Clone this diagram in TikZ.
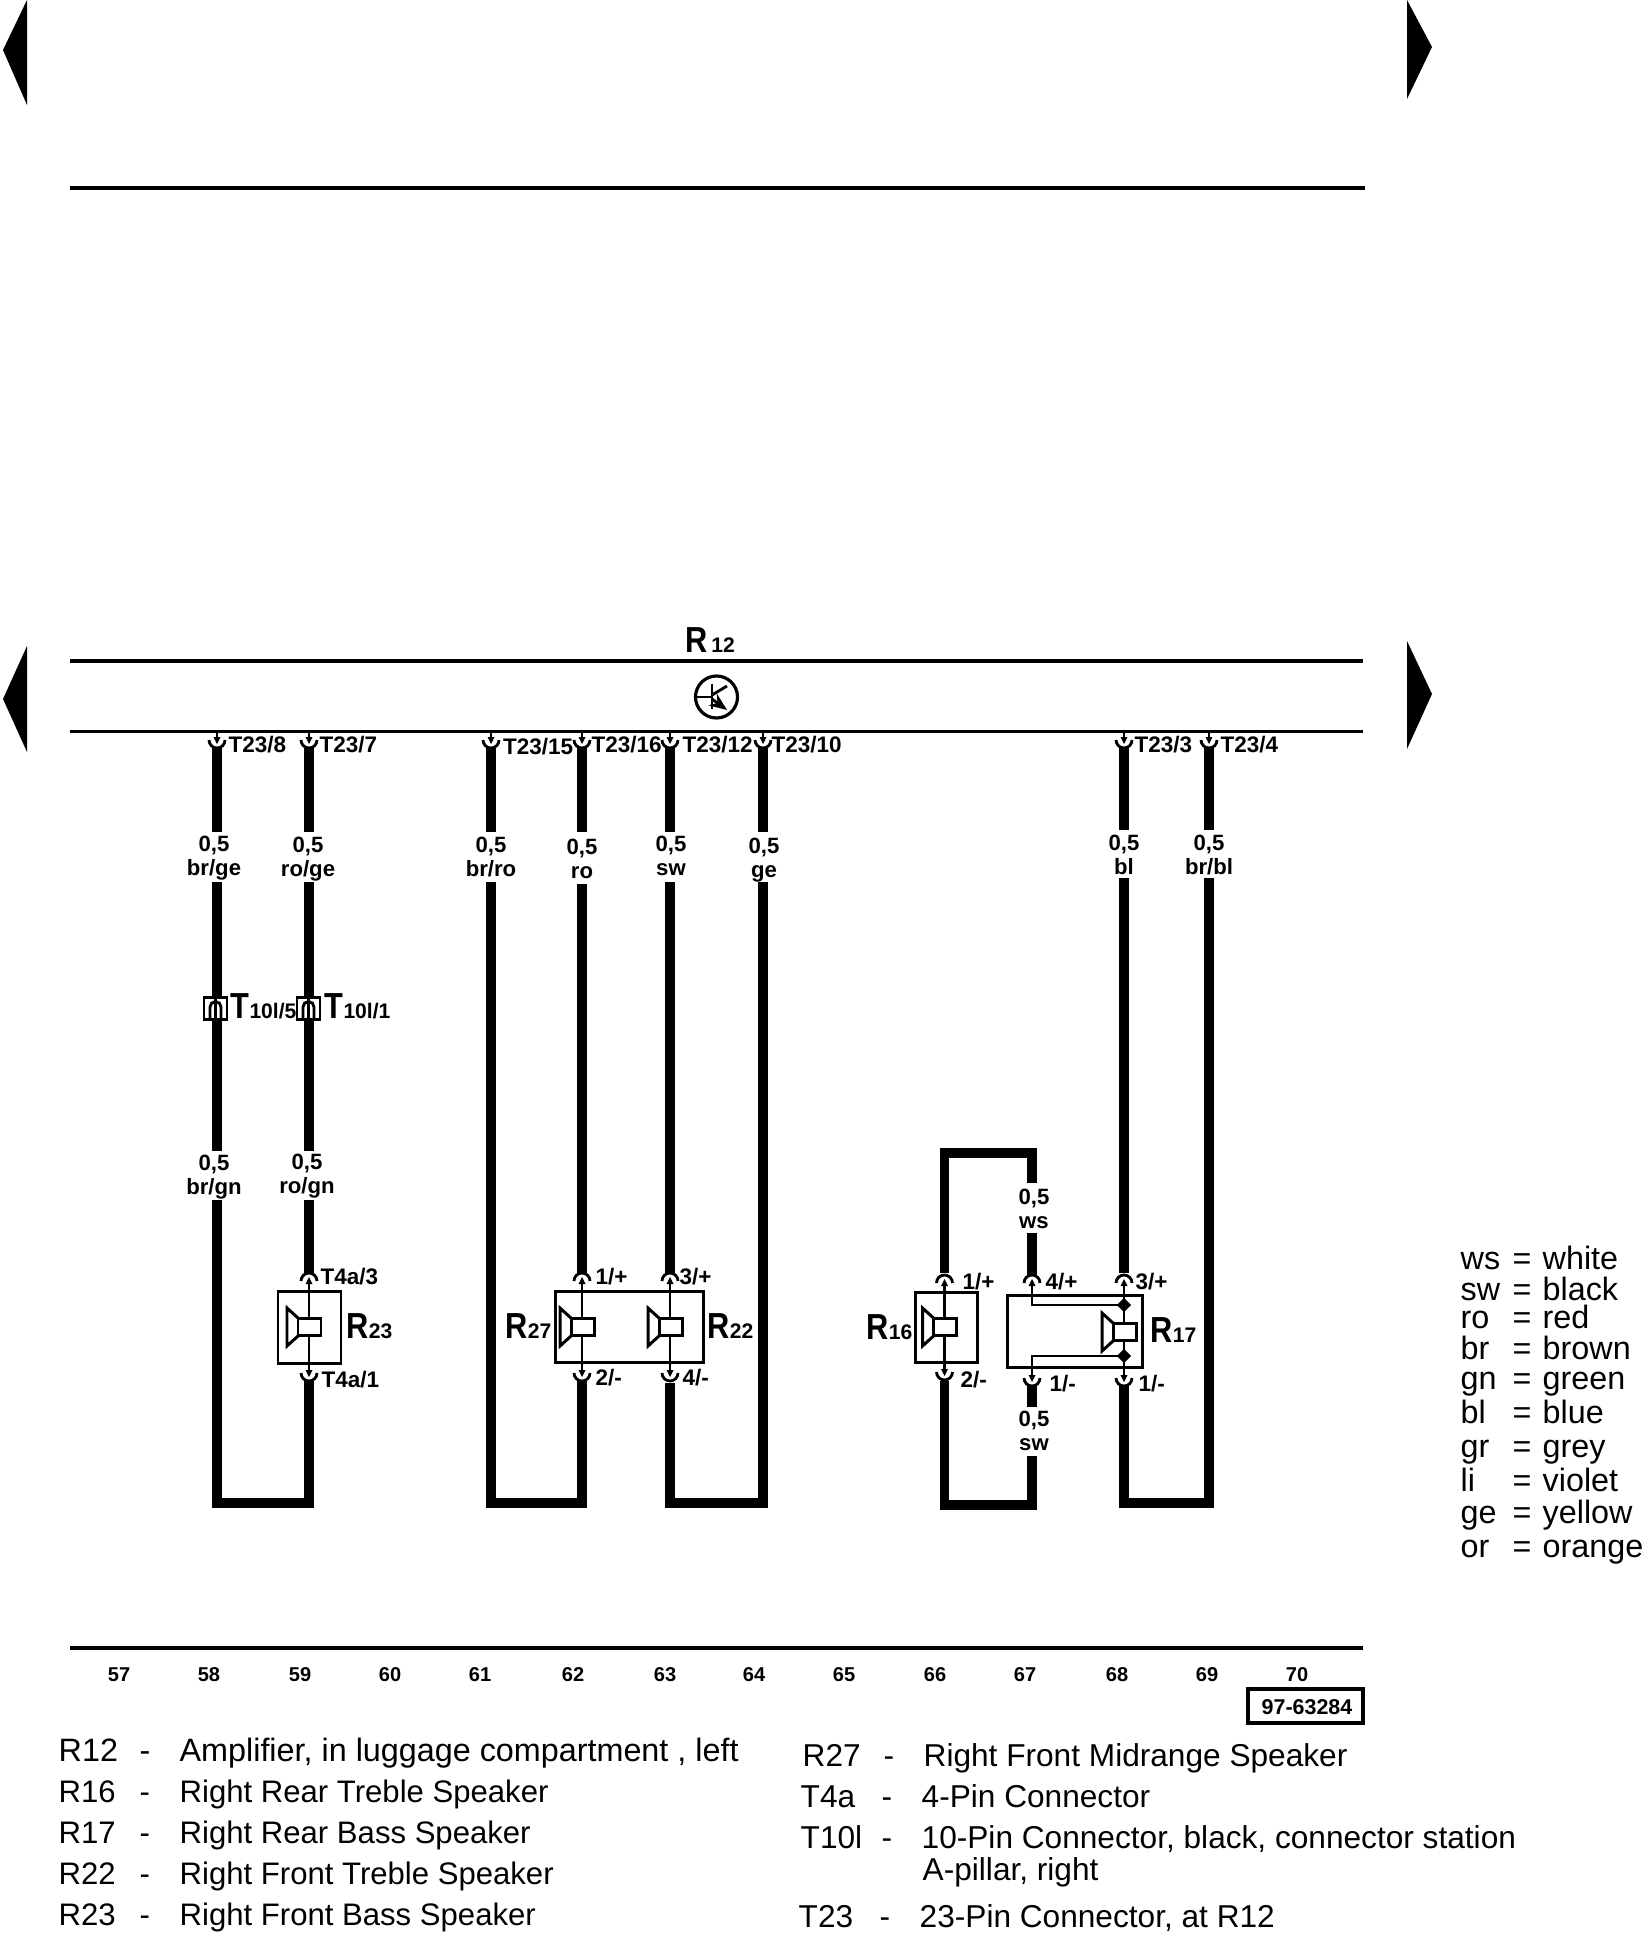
\documentclass[tikz,border=0pt]{standalone}
\usepackage{fontspec, tkz-euclide}
\setmainfont{Liberation Sans}
\usetikzlibrary{shapes.geometric, arrows.meta}

\newcommand{\compname}[2]{{\fontsize{10.3}{11}\selectfont\bfseries\scalebox{.85}[1]{#1}}{\fontsize{6}{7}\selectfont\bfseries #2}}
\newcommand{\legrow}[3]{\makebox[.81cm][l]{#1}\makebox[.40cm][l]{#2}#3}
\newcommand{\colrow}[2]{\makebox[.52cm][l]{#1}\makebox[.30cm][l]{=}#2}
\newcommand{\wiregauge}[1]{0,5\\#1\strut}

\tikzset{
    wire/.style = {line width = 2.8pt, line join = miter, line cap = butt},
    bus/.style = {line width = 1pt, line cap = butt},
    thinline/.style = {line width = .8pt, line cap = butt},
    partbox/.style = {line width = .85pt},
    pinlabel/.style = {anchor = west, inner sep = 0pt, font = \fontsize{6.4}{7}\selectfont\bfseries},
    gaugelabel/.style = {align = center, inner sep = 0pt, font = \fontsize{6.3}{6.8}\selectfont\bfseries},
    partlabel/.style = {anchor = base west, inner sep = 0pt},
    colnum/.style = {inner sep = 0pt, font = \fontsize{5.7}{7}\selectfont\bfseries},
    legendtext/.style = {anchor = base west, inner sep = 0pt, font = \fontsize{9.2}{11}\selectfont},
    legendright/.style = {legendtext, font = \fontsize{9}{11}\selectfont},
    legendleft/.style = {legendtext, font = \fontsize{8.85}{11}\selectfont},
    junct/.style = {diamond, fill, inner sep = 0pt, minimum size = .15cm},
    pindown/.pic = {
        \draw[thinline] (-.08,0) arc[start angle = 180, end angle = 360, radius = .08];
        \fill (-.035,.03) -- (.035,.03) -- (0,-.04) -- cycle;
    },
    speaker/.pic = {
        \draw[partbox, fill = white] (-.11,-.085) rectangle (.12,.085);
        \draw[partbox] (-.11,.09) -- (-.22,.19) -- (-.22,-.19) -- (-.11,-.09);
    },
    tenpin/.pic = {
        \draw[partbox, fill = white] (-.115,-.11) rectangle (.115,.11);
        \draw[thinline] (-.055,-.11) -- (-.055,.01) arc[start angle = 180, end angle = 0, radius = .055] -- (.055,-.11);
        \draw[thinline] (0,.11) -- (0,-.11);
    }
}

\begin{document}
\begin{tikzpicture}
    \useasboundingbox (0,0) rectangle (16.48,-19.40);
    % page arrows and bus lines
    \tkzDefPoints{.03/-.50/la1, .27/0/la2, .27/-1.05/la3, 14.32/-.47/ra1, 14.07/0/ra2, 14.07/-.99/ra3}
    \tkzDefPoints{.03/-6.99/lb1, .27/-6.46/lb2, .27/-7.52/lb3, 14.32/-6.94/rb1, 14.07/-6.41/rb2, 14.07/-7.49/rb3}
    \tkzDefPoints{.70/-1.88/t1, 13.65/-1.88/t2, .70/-6.61/u1, 13.63/-6.61/u2, .70/-7.315/v1, 13.63/-7.315/v2, .70/-16.48/w1, 13.63/-16.48/w2}
    \fill (la1) -- (la2) -- (la3) -- cycle;
    \fill (ra1) -- (ra2) -- (ra3) -- cycle;
    \fill (lb1) -- (lb2) -- (lb3) -- cycle;
    \fill (rb1) -- (rb2) -- (rb3) -- cycle;
    \tkzDrawSegments[bus](t1,t2 u1,u2 v1,v2 w1,w2)
    % bus tap points and pins
    \tkzDefPoints{2.17/-7.315/At, 3.09/-7.315/Bt, 4.91/-7.315/Ct, 5.82/-7.315/Dt, 6.70/-7.315/Et, 7.63/-7.315/Ft, 11.24/-7.315/Gt, 12.09/-7.315/Ht}
    \tkzDefPoints{2.17/-7.40/Ap, 3.09/-7.40/Bp, 4.91/-7.40/Cp, 5.82/-7.40/Dp, 6.70/-7.40/Ep, 7.63/-7.40/Fp, 11.24/-7.40/Gp, 12.09/-7.40/Hp}
    % wires, upper part
    \tkzDefPoints{2.17/-7.47/Aa, 3.09/-7.47/Ba, 4.91/-7.47/Ca, 5.82/-7.47/Da, 6.70/-7.47/Ea, 7.63/-7.47/Fa, 11.24/-7.47/Ga, 12.09/-7.47/Ha}
    \tkzDefPoints{2.17/-8.32/Ab, 3.09/-8.32/Bb, 4.91/-8.32/Cb, 5.82/-8.32/Db, 6.70/-8.32/Eb, 7.63/-8.32/Fb, 11.24/-8.30/Gb, 12.09/-8.30/Hb}
    \tkzDefPoints{2.17/-8.82/Ac, 3.09/-8.82/Bc, 4.91/-8.82/Cc, 5.82/-8.84/Dc, 6.70/-8.82/Ec, 7.63/-8.82/Fc, 11.24/-8.78/Gc, 12.09/-8.78/Hc}
    \tkzDrawSegments[wire](Aa,Ab Ba,Bb Ca,Cb Da,Db Ea,Eb Fa,Fb Ga,Gb Ha,Hb)
    % wires, lower part
    \tkzDefPoints{2.17/-11.51/Ad, 2.17/-12.00/Ae, 2.17/-15.03/Af, 3.09/-15.03/Bf, 3.09/-11.51/Bd, 3.09/-12.00/Be, 3.09/-12.73/Bg, 3.09/-13.81/Bh}
    \tkzDefPoints{4.91/-15.03/Cf, 5.82/-15.03/Df, 5.82/-12.73/Dg, 5.82/-13.81/Dh, 6.70/-12.73/Eg, 6.70/-13.83/Eh, 6.70/-15.03/Ef, 7.63/-15.03/Ff}
    \tkzDefPoints{11.24/-12.73/Gg, 11.24/-13.85/Gh, 11.24/-15.03/Gf, 12.09/-15.03/Hf}
    \tkzDefPoints{9.445/-12.73/Jg, 9.445/-11.53/Jk, 10.32/-11.53/Kk, 10.32/-11.83/Kb, 10.32/-12.33/Kc, 10.32/-12.75/Kg}
    \tkzDefPoints{9.445/-13.81/Jh, 9.445/-15.05/Jf, 10.32/-15.05/Kf, 10.32/-14.56/Ke, 10.32/-14.07/Kd, 10.32/-13.85/Kh}
    \tkzDrawSegments[wire](Ac,Ad Bc,Bd Be,Bg Dc,Dg Ec,Eg Kd,Kh)
    \tkzDrawPolySeg[wire](Jg,Jk,Kk,Kb)
    \tkzDrawSegments[wire](Kc,Kg Gc,Gg)
    \tkzDrawPolySeg[wire](Ae,Af,Bf,Bh)
    \tkzDrawPolySeg[wire](Cc,Cf,Df,Dh)
    \tkzDrawPolySeg[wire](Eh,Ef,Ff,Fc)
    \tkzDrawPolySeg[wire](Gh,Gf,Hf,Hc)
    \tkzDrawPolySeg[wire](Jh,Jf,Kf,Ke)
    % pin stems
    \tkzDefPoints{3.09/-12.81/Bu, 3.09/-13.73/Bl, 5.82/-12.81/Du, 5.82/-13.73/Dl, 6.70/-12.81/Eu, 6.70/-13.73/El}
    \tkzDefPoints{9.445/-12.83/Ju, 9.445/-13.72/Jl, 10.32/-12.83/Ku, 10.32/-13.78/Kl, 11.24/-12.83/Gu, 11.24/-13.78/Gl}
    \tkzDefPoints{10.32/-13.05/K1, 11.24/-13.05/G1, 10.32/-13.56/K2, 11.24/-13.56/G2}
    \tkzDrawSegments[thinline](At,Ap Bt,Bp Ct,Cp Dt,Dp Et,Ep Ft,Fp Gt,Gp Ht,Hp Bu,Bl Du,Dl Eu,El Ju,Jl Gu,Gl)
    \tkzDrawPolySeg[thinline](Ku,K1,G1)
    \tkzDrawPolySeg[thinline](Kl,K2,G2)
    \pic at (Ap) {pindown};
    \pic at (Bp) {pindown};
    \pic at (Cp) {pindown};
    \pic at (Dp) {pindown};
    \pic at (Ep) {pindown};
    \pic at (Fp) {pindown};
    \pic at (Gp) {pindown};
    \pic at (Hp) {pindown};
    \pic[rotate = 180] at (Bu) {pindown};
    \pic[rotate = 180] at (Du) {pindown};
    \pic[rotate = 180] at (Eu) {pindown};
    \pic[rotate = 180] at (Ju) {pindown};
    \pic[rotate = 180] at (Ku) {pindown};
    \pic[rotate = 180] at (Gu) {pindown};
    \pic at (Bl) {pindown};
    \pic at (Dl) {pindown};
    \pic at (El) {pindown};
    \pic at (Jl) {pindown};
    \pic at (Kl) {pindown};
    \pic at (Gl) {pindown};
    % connector station
    \pic at (2.155,-10.08) {tenpin};
    \pic at (3.085,-10.08) {tenpin};
    % part boxes and speakers
    \draw[partbox] (2.78,-12.91) rectangle (3.41,-13.63);
    \draw[partbox] (5.55,-12.91) rectangle (7.03,-13.62);
    \draw[partbox] (9.15,-12.92) rectangle (9.77,-13.62);
    \draw[partbox] (10.07,-12.95) rectangle (11.42,-13.67);
    \pic at (3.09,-13.27) {speaker};
    \pic at (5.82,-13.27) {speaker};
    \pic at (6.70,-13.27) {speaker};
    \pic at (9.445,-13.27) {speaker};
    \pic at (11.24,-13.32) {speaker};
    \node[junct] (jct1) at (G1) {};
    \node[junct] (jct2) at (G2) {};
    % amplifier symbol
    \node[circle, draw, line width = .9pt, minimum size = .42cm, inner sep = 0pt] (amp) at (7.165,-6.97) {};
    \tkzDefPoints{7.12/-6.84/qa, 7.12/-7.09/qb, 7.12/-6.97/qc, 7.12/-6.95/qd, 7.12/-6.99/qe, 7.27/-6.86/qf, 7.27/-7.10/qg}
    \tkzDrawSegments[thinline](qa,qb qd,qf)
    \draw[thinline] (amp.west) -- (qc);
    \draw[thinline, -{Stealth[length = 5pt, width = 4pt]}] (qe) -- (qg);
    % part names
    \node[partlabel] (nR12) at (6.85,-6.52) {\compname{R}{\,12}};
    \node[partlabel] (nR23) at (3.46,-13.38) {\compname{R}{23}};
    \node[partlabel] (nR27) at (5.05,-13.38) {\compname{R}{27}};
    \node[partlabel] (nR22) at (7.07,-13.38) {\compname{R}{22}};
    \node[partlabel] (nR16) at (8.66,-13.39) {\compname{R}{16}};
    \node[partlabel] (nR17) at (11.50,-13.42) {\compname{R}{17}};
    \node[partlabel] (nT1) at (2.30,-10.18) {\compname{T}{10l/5}};
    \node[partlabel] (nT2) at (3.24,-10.18) {\compname{T}{10l/1}};
    % pin labels
    \node[pinlabel] (pA) at (2.28,-7.45) {T23/8};
    \node[pinlabel] (pB) at (3.19,-7.45) {T23/7};
    \node[pinlabel] (pC) at (5.025,-7.47) {T23/15};
    \node[pinlabel] (pD) at (5.91,-7.45) {T23/16};
    \node[pinlabel] (pE) at (6.82,-7.45) {T23/12};
    \node[pinlabel] (pF) at (7.71,-7.45) {T23/10};
    \node[pinlabel] (pG) at (11.34,-7.45) {T23/3};
    \node[pinlabel] (pH) at (12.20,-7.45) {T23/4};
    \node[pinlabel] (s1) at (3.20,-12.77) {T4a/3};
    \node[pinlabel] (s2) at (3.21,-13.80) {T4a/1};
    \node[pinlabel] (s3) at (5.95,-12.77) {1/+};
    \node[pinlabel] (s4) at (5.95,-13.78) {2/-};
    \node[pinlabel] (s5) at (6.79,-12.77) {3/+};
    \node[pinlabel] (s6) at (6.82,-13.78) {4/-};
    \node[pinlabel] (s7) at (9.62,-12.82) {1/+};
    \node[pinlabel] (s8) at (9.60,-13.80) {2/-};
    \node[pinlabel] (s9) at (10.45,-12.82) {4/+};
    \node[pinlabel] (s10) at (11.35,-12.82) {3/+};
    \node[pinlabel] (s11) at (10.49,-13.84) {1/-};
    \node[pinlabel] (s12) at (11.38,-13.84) {1/-};
    % wire gauge and colour
    \node[gaugelabel] (g1) at (2.14,-8.59) {\wiregauge{br/ge}};
    \node[gaugelabel] (g2) at (3.08,-8.60) {\wiregauge{ro/ge}};
    \node[gaugelabel] (g3) at (4.91,-8.60) {\wiregauge{br/ro}};
    \node[gaugelabel] (g4) at (5.82,-8.62) {\wiregauge{ro}};
    \node[gaugelabel] (g5) at (6.71,-8.59) {\wiregauge{sw}};
    \node[gaugelabel] (g6) at (7.64,-8.61) {\wiregauge{ge}};
    \node[gaugelabel] (g7) at (11.24,-8.58) {\wiregauge{bl}};
    \node[gaugelabel] (g8) at (12.09,-8.58) {\wiregauge{br/bl}};
    \node[gaugelabel] (g9) at (2.14,-11.78) {\wiregauge{br/gn}};
    \node[gaugelabel] (g10) at (3.07,-11.77) {\wiregauge{ro/gn}};
    \node[gaugelabel] (g11) at (10.34,-12.12) {\wiregauge{ws}};
    \node[gaugelabel] (g12) at (10.34,-14.34) {\wiregauge{sw}};
    % current track numbers
    \node[colnum] (c57) at (1.19,-16.75) {57};
    \node[colnum] (c58) at (2.09,-16.75) {58};
    \node[colnum] (c59) at (3.00,-16.75) {59};
    \node[colnum] (c60) at (3.90,-16.75) {60};
    \node[colnum] (c61) at (4.80,-16.75) {61};
    \node[colnum] (c62) at (5.73,-16.75) {62};
    \node[colnum] (c63) at (6.65,-16.75) {63};
    \node[colnum] (c64) at (7.54,-16.75) {64};
    \node[colnum] (c65) at (8.44,-16.75) {65};
    \node[colnum] (c66) at (9.35,-16.75) {66};
    \node[colnum] (c67) at (10.25,-16.75) {67};
    \node[colnum] (c68) at (11.17,-16.75) {68};
    \node[colnum] (c69) at (12.07,-16.75) {69};
    \node[colnum] (c70) at (12.97,-16.75) {70};
    \draw[bus] (12.48,-16.89) rectangle (13.63,-17.23);
    \node[inner sep = 0pt, font = \fontsize{6.1}{7}\selectfont\bfseries] (ref) at (13.07,-17.07) {97-63284};
    % colour key
    \node[legendtext] (k1) at (14.60,-12.69) {\colrow{ws}{white}};
    \node[legendtext] (k2) at (14.60,-13.00) {\colrow{sw}{black}};
    \node[legendtext] (k3) at (14.60,-13.28) {\colrow{ro}{red}};
    \node[legendtext] (k4) at (14.60,-13.59) {\colrow{br}{brown}};
    \node[legendtext] (k5) at (14.60,-13.89) {\colrow{gn}{green}};
    \node[legendtext] (k6) at (14.60,-14.23) {\colrow{bl}{blue}};
    \node[legendtext] (k7) at (14.60,-14.57) {\colrow{gr}{grey}};
    \node[legendtext] (k8) at (14.60,-14.91) {\colrow{li}{violet}};
    \node[legendtext] (k9) at (14.60,-15.23) {\colrow{ge}{yellow}};
    \node[legendtext] (k10) at (14.60,-15.57) {\colrow{or}{orange}};
    % parts list
    \node[legendtext] (l1) at (.58,-17.61) {\legrow{R12}{-}{Amplifier, in luggage compartment , left}};
    \node[legendleft] (l2) at (.58,-18.02) {\legrow{R16}{-}{Right Rear Treble Speaker}};
    \node[legendleft] (l3) at (.58,-18.43) {\legrow{R17}{-}{Right Rear Bass Speaker}};
    \node[legendleft] (l4) at (.58,-18.84) {\legrow{R22}{-}{Right Front Treble Speaker}};
    \node[legendleft] (l5) at (.58,-19.25) {\legrow{R23}{-}{Right Front Bass Speaker}};
    \node[legendright] (l6) at (8.02,-17.66) {\legrow{R27}{-}{Right Front Midrange Speaker}};
    \node[legendright] (l7) at (8.00,-18.07) {\legrow{T4a}{-}{4-Pin Connector}};
    \node[legendright] (l8) at (8.00,-18.48) {\legrow{T10l}{-}{10-Pin Connector, black, connector station}};
    \node[legendright] (l9) at (9.22,-18.80) {A-pillar, right};
    \node[legendright] (l10) at (7.98,-19.27) {\legrow{T23}{-}{23-Pin Connector, at R12}};
\end{tikzpicture}
\end{document}
